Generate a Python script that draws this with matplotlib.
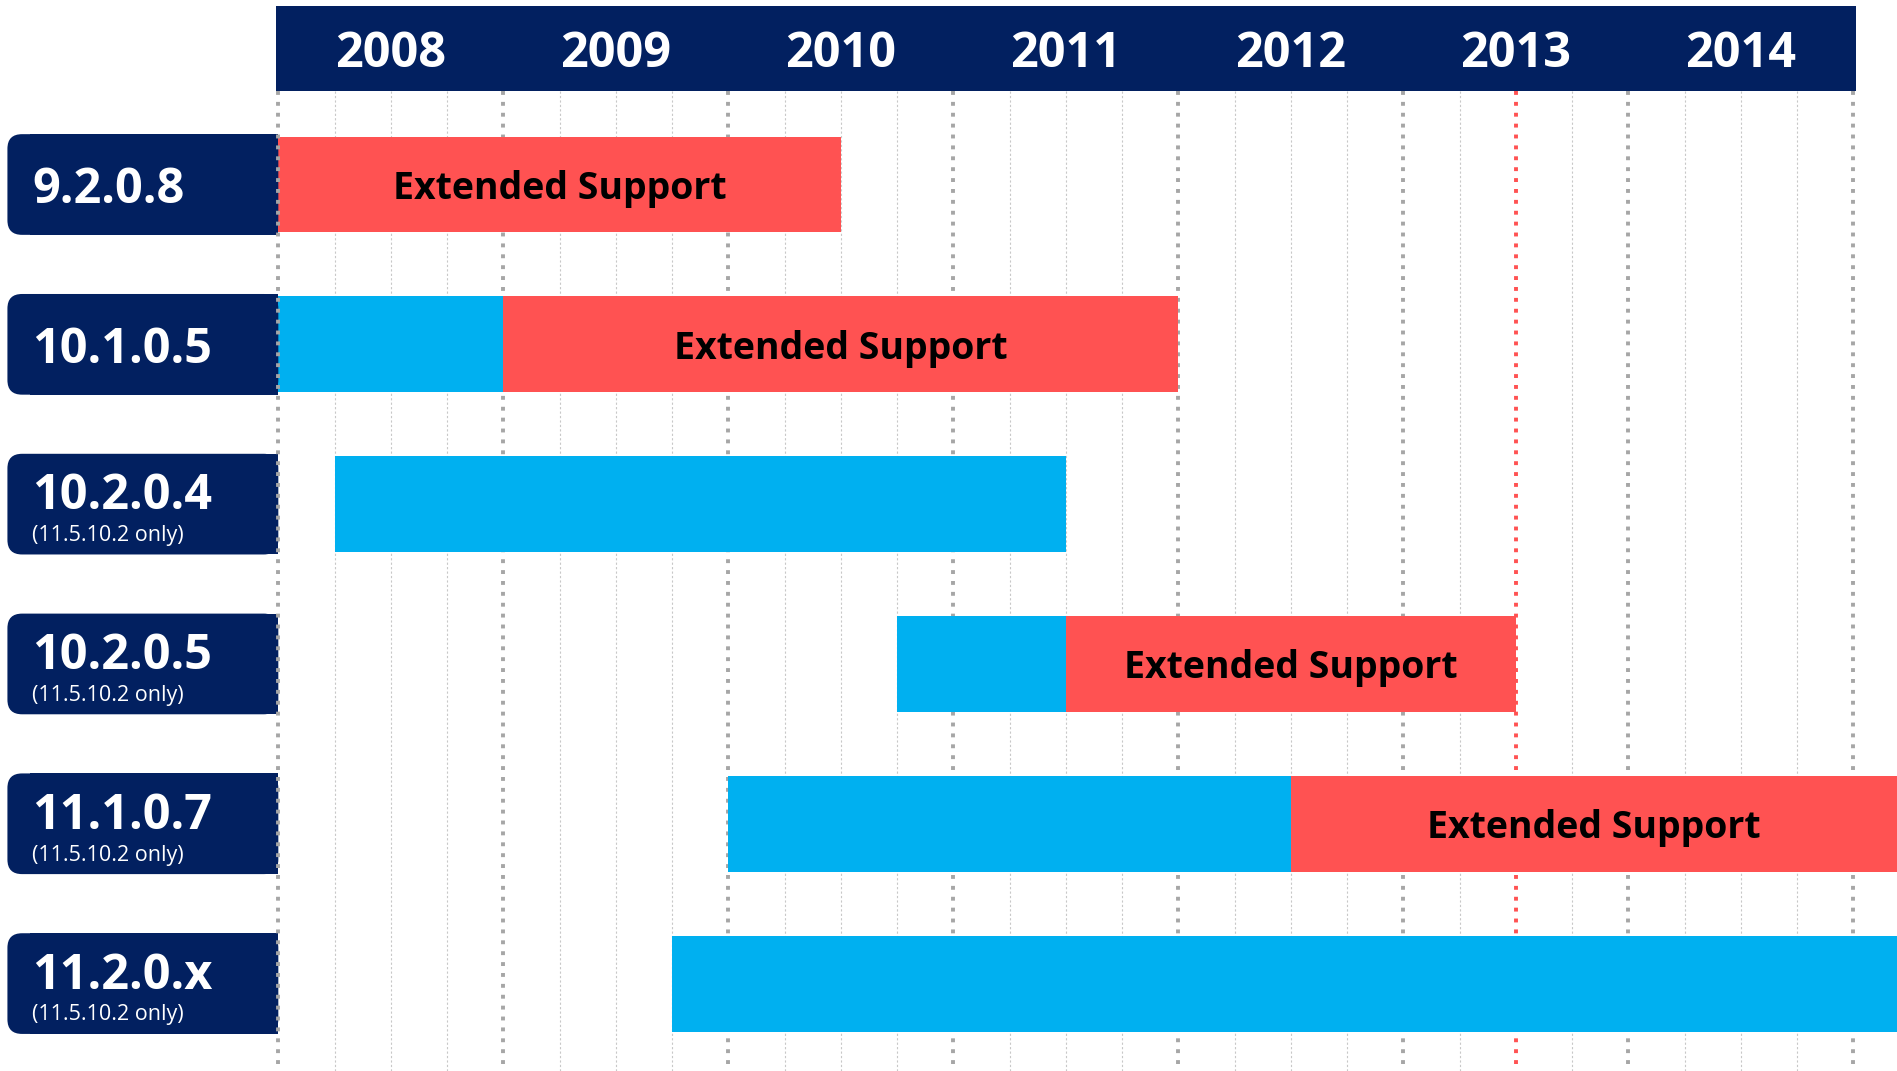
import matplotlib
matplotlib.use('Agg')
import matplotlib.pyplot as plt
import matplotlib.patches as patches

NAVY = '#022060'
BLUE = '#00B0F0'
RED = '#FF5252'
GRID = '#A6A6A6'

# data
versions = ['9.2.0.8', '10.1.0.5', '10.2.0.4', '10.2.0.5', '11.1.0.7', '11.2.0.x']
notes = ['', '', '(11.5.10.2 only)', '(11.5.10.2 only)', '(11.5.10.2 only)', '(11.5.10.2 only)']
premier_start = [None, 2008.0, 2008.25, 2010.75, 2010.0, 2009.75]
premier_end = [None, 2009.0, 2011.5, 2011.5, 2012.5, 2017.0]
extended_start = [2008.0, 2009.0, None, 2011.5, 2012.5, None]
extended_end = [2010.5, 2012.0, None, 2013.5, 2015.75, None]
years = [2008, 2009, 2010, 2011, 2012, 2013, 2014]
marker_date = 2013.5

plt.rcParams['font.family'] = ['Open Sans', 'DejaVu Sans']

fig = plt.figure(figsize=(18.97, 10.71), dpi=100)
ax = fig.add_axes([0, 0, 1, 1])
x0, x1 = 2006.763, 2015.194
ax.set_xlim(x0, x1)
ax.set_ylim(5.547, -1.1545)
ax.axis('off')

header_top, header_bot = -1.117, -0.587
grid_bot = 5.547

# quarter lines
for y in years + [2015]:
    for q in (0.25, 0.5, 0.75):
        if y + q > x1 or y + q == marker_date:
            continue
        ax.plot([y + q, y + q], [header_bot, grid_bot], color='#C8C8C8',
                lw=0.8, ls=(0, (2, 2)), zorder=1)
# year lines
for y in years + [2015]:
    ax.plot([y, y], [header_bot, grid_bot], color=GRID, lw=2.8,
            ls=(0, (1, 1.8)), zorder=1 if y > 2008 else 5)
ax.plot([marker_date, marker_date], [header_bot, grid_bot], color=RED, lw=2.8,
        ls=(0, (1, 1.8)), zorder=1)

# header
ax.add_patch(patches.Rectangle((2007.99, header_top), 2015.01 - 2007.99,
                               header_bot - header_top, facecolor=NAVY, lw=0, zorder=3))
for y in years:
    ax.text(y + 0.5, (header_top + header_bot) / 2, str(y), color='white',
            fontsize=35, fontweight='bold', ha='center', va='center_baseline', zorder=4)

bar_h = 0.60
box_h = 0.63
box_left = 2006.796
for i, v in enumerate(versions):
    # label box, rounded on the left
    ax.add_patch(patches.FancyBboxPatch((box_left, i - box_h / 2), 2008 - box_left, box_h,
                                        boxstyle='round,pad=0,rounding_size=0.065',
                                        mutation_aspect=1.4, facecolor=NAVY, lw=0, zorder=3))
    ax.add_patch(patches.Rectangle((box_left + 0.1, i - box_h / 2), 2008 - box_left - 0.1,
                                   box_h, facecolor=NAVY, lw=0, zorder=3))
    if notes[i]:
        ax.text(2006.905, i - 0.083, v, color='white', fontsize=35, fontweight='bold',
                ha='left', va='center_baseline', zorder=4)
        ax.text(2006.905, i + 0.18, notes[i], color='white', fontsize=15.5,
                ha='left', va='center_baseline', zorder=4)
    else:
        ax.text(2006.905, i, v, color='white', fontsize=35, fontweight='bold',
                ha='left', va='center_baseline', zorder=4)

    if premier_start[i] is not None:
        ax.barh(i, premier_end[i] - premier_start[i], left=premier_start[i],
                height=bar_h, color=BLUE, zorder=2)
    if extended_start[i] is not None:
        ax.barh(i, extended_end[i] - extended_start[i], left=extended_start[i],
                height=bar_h, color=RED, zorder=2)
        cx = (extended_start[i] + min(extended_end[i], x1)) / 2
        ax.text(cx, i, 'Extended Support', color='black', fontsize=27,
                fontweight='bold', ha='center', va='center_baseline', zorder=4)

fig.savefig('out.png', dpi=100)
